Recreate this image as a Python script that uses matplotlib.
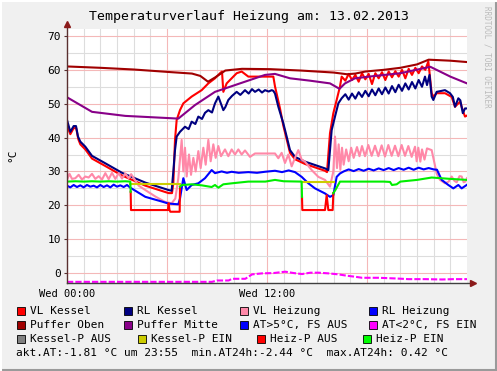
import matplotlib

matplotlib.use("Agg")
import matplotlib.pyplot as plt
from matplotlib.patches import Rectangle
import numpy as np

nan = np.nan

# --- data (hours since Wed 00:00, values in degC) ---
vl_kessel_t = [0, 0.2, 0.4, 0.55, 0.68, 0.8, 1.1, 1.5, 2.3, 3.3, 4.7, 6.1, 6.3,
               6.38, 6.48, 6.58, 6.78, 6.98, 7.48, 8.08, 8.48, 8.88, 9.18, 9.3, 9.38,
               9.58, 9.88, 10.18, 10.48, 10.88, 11.48, 12.08, 12.38, 12.48, 12.78,
               12.98, 13.18, 13.38, 13.68, 14.28, 14.88, 15.48, 15.6, 15.78, 15.98,
               16.18, 16.38, 16.48,
               16.7, 16.9, 17.1, 17.3, 17.5, 17.7, 17.9, 18.1, 18.3, 18.5, 18.7, 18.9,
               19.1, 19.3, 19.5, 19.7, 19.9, 20.1, 20.3, 20.5, 20.7, 20.9, 21.1, 21.3,
               21.5, 21.68, 21.88, 21.98, 22.18, 22.68, 23.08, 23.28, 23.58, 23.75,
               23.88, 24.0]
vl_kessel = [43.5, 41.0, 42.8, 42.8, 39.5, 38.0, 36.5, 33.8, 31.6, 28.8, 25.8, 23.6, 23.6,
             26.5, 39.3, 45.2, 48.1, 50.1, 52.1, 54.0, 56.0, 57.5, 59.0, 59.5, 53.5,
             56.0, 57.5, 59.0, 59.5, 58.0, 58.0, 58.0, 58.0, 55.1, 48.6,
             43.5, 39.5, 35.5, 33.6, 32.2, 31.2, 30.2, 29.8, 41.3, 47.2,
             51.1, 55.1, 58.0,
             56.8, 58.8, 57.0, 58.5, 56.5, 59.0, 57.2, 58.8, 55.8, 59.0, 57.5, 59.3,
             57.0, 59.5, 57.8, 59.6, 58.0, 60.0, 57.5, 60.3, 58.5, 60.6, 59.0, 61.0,
             60.0, 62.5, 53.1, 52.1, 53.1, 53.1, 52.0, 49.1, 50.6, 48.0,
             46.2, 46.5]

rl_kessel_t = [0, 0.2, 0.4, 0.54, 0.66, 0.8, 1.1, 1.5, 2.3, 3.3, 4.7, 6.1, 6.28, 6.38,
               6.48, 6.58, 6.78, 7.08, 7.3, 7.48, 7.7, 7.88, 8.1, 8.28, 8.48, 8.7, 8.88,
               9.08, 9.2, 9.38, 9.5, 9.68, 9.9, 10.18, 10.4, 10.68, 10.9, 11.1, 11.28,
               11.5, 11.7, 11.88, 12.1, 12.28, 12.38, 12.48, 12.68, 12.98, 13.18, 13.38,
               13.68, 14.28, 14.88, 15.48, 15.68, 15.78, 15.88, 16.08, 16.28, 16.48,
               16.7, 16.9, 17.1, 17.3, 17.5, 17.7, 17.9, 18.1, 18.3, 18.5, 18.7, 18.9,
               19.1, 19.3, 19.5, 19.7, 19.9, 20.1, 20.3, 20.5, 20.7, 20.9, 21.1, 21.3,
               21.48, 21.6, 21.75, 21.88, 21.98, 22.18, 22.68, 22.98, 23.15, 23.28,
               23.48, 23.6, 23.75, 23.88, 24.0]
rl_kessel = [45.2, 41.7, 43.4, 43.4, 40.3, 38.8, 37.3, 34.6, 32.4, 29.6, 26.7, 24.5, 24.3, 30.0,
             36.3, 40.3, 41.7, 43.2, 42.5, 44.7, 44.0, 46.2, 45.5, 47.3, 48.1, 47.4, 50.1,
             52.1, 50.5, 48.1, 49.0, 51.1, 52.3, 53.5, 52.6, 54.0, 53.0, 54.3, 53.5,
             54.2, 53.3, 54.0, 53.6, 54.0, 53.8, 53.0, 49.1, 44.2, 40.3, 36.3,
             34.3, 32.9, 31.9, 30.9, 30.4, 36.3, 42.2, 46.2, 50.1, 51.6,
             52.8, 51.2, 53.0, 51.5, 53.4, 52.0, 53.8, 52.2, 54.2, 52.5, 54.5, 52.8,
             54.8, 53.0, 55.2, 53.4, 55.6, 53.8, 56.0, 54.2, 56.4, 54.5, 57.0, 55.0,
             58.0, 55.5, 58.5, 52.1, 51.1, 53.5, 54.0, 53.1, 52.0, 49.1,
             51.6, 51.0, 47.2, 48.6, 48.6]

vl_heizung_t = [0, 0.15, 0.3, 0.5, 0.7, 0.9, 1.1, 1.3, 1.5, 1.7, 1.9, 2.1, 2.3, 2.5, 2.7,
                2.9, 3.1, 3.3, 3.5, 3.7, 3.85, 4.3, 4.7, 5.3, 5.88, 6.28, 6.5, 6.68, 6.88,
                6.98, 7.08, 7.18, 7.32, 7.44, 7.58, 7.72, 7.88, 8.02, 8.18, 8.32, 8.48,
                8.62, 8.78, 8.92, 9.08, 9.24, 9.48, 9.68, 9.88, 10.08, 10.28, 10.48,
                10.68, 10.98, 11.28, 11.88, 12.48, 12.68, 12.88, 13.08, 13.28, 13.48,
                13.68, 13.88, 14.08, 14.28, 14.68, 15.08, 15.48, 15.78, 15.98, 16.08,
                16.2, 16.3, 16.4, 16.5, 16.6, 16.75, 16.9, 17.05, 17.2, 17.4, 17.55,
                17.7, 17.88, 18.08, 18.28, 18.48, 18.68, 18.88, 19.08, 19.28, 19.48,
                19.68, 19.88, 20.08, 20.28, 20.48, 20.68, 20.88, 20.98, 21.08, 21.2,
                21.3, 21.45, 21.6, 21.88, 22.18, 22.38, 22.68, 22.9, 23.08, 23.25,
                23.38, 23.55, 23.68, 23.8, 23.9, 24.0]
vl_heizung = [27.5, 29.3, 27.8, 28.0, 29.0, 27.6, 28.5, 28.2, 29.3, 27.8, 28.6, 27.6, 29.5, 27.7, 29.6,
              27.8, 29.5, 27.9, 29.4, 28.0, 29.2, 25.8, 24.5, 22.6, 21.0, 20.6, 22.0, 28.0, 39.3,
              30.0, 37.0, 28.5, 35.0, 29.0, 34.0, 30.0, 36.0, 31.0, 37.0, 32.0, 39.3,
              33.0, 38.0, 34.0, 37.5, 34.5, 36.5, 34.5, 36.5, 35.0, 36.5, 35.0,
              36.2, 34.3, 35.3, 35.3, 35.3, 33.9, 35.5, 32.5, 35.0, 31.5,
              34.0, 36.3, 33.5, 32.9, 30.4, 28.4, 27.5, 25.5, 30.0, 40.3,
              31.0, 38.0, 30.5, 37.0, 32.0, 36.5, 33.0, 37.0, 34.0, 37.2, 34.5,
              37.5, 34.5, 37.8, 34.6, 37.6, 34.5, 37.7, 34.4, 37.8, 34.6,
              37.6, 34.5, 37.8, 34.6, 37.5, 34.3, 37.3, 33.0, 37.0, 32.9,
              36.5, 33.5, 36.8, 36.3, 29.4, 27.5, 26.5, 27.0, 28.5, 27.2,
              26.8, 28.6, 28.5, 26.8, 27.0, 28.0]

rl_heizung_t = [0, 0.2, 0.4, 0.6, 0.8, 1.0, 1.2, 1.4, 1.6, 1.8, 2.0, 2.2, 2.4, 2.6, 2.8, 3.0,
                3.2, 3.4, 3.6, 3.8, 4.7, 5.7, 6.1, 6.68, 6.78, 6.98, 7.18, 7.48, 7.88, 8.28,
                8.68, 8.88, 9.28, 9.6, 9.88, 10.3, 10.88, 11.4, 11.88, 12.48, 12.9, 13.3,
                13.68, 14.08, 14.48, 14.88, 15.48, 15.78, 15.98, 16.18, 16.38,
                16.6, 16.9, 17.2, 17.5, 17.8, 18.1, 18.4, 18.7, 19.0, 19.3, 19.6, 19.9,
                20.2, 20.5, 20.8, 21.1, 21.4, 21.7, 22.0, 22.2, 22.48, 22.88, 23.18,
                23.48, 23.68, 23.98]
rl_heizung = [25.8, 25.3, 26.0, 25.4, 25.9, 25.3, 26.0, 25.5, 25.8, 25.3, 26.0, 25.4, 25.9, 25.3, 26.1, 25.5,
              25.9, 25.4, 26.0, 25.2, 22.5, 21.1, 20.5, 20.3, 22.0, 28.0, 24.5, 26.0, 26.5, 28.0,
              30.4, 29.5, 30.0, 29.6, 29.9, 29.6, 29.8, 29.6, 29.9, 30.2, 29.8, 30.3,
              29.8, 28.4, 26.5, 25.0, 23.5, 22.5, 23.0, 28.4, 29.4,
              30.0, 30.6, 30.1, 30.7, 30.2, 30.8, 30.3, 30.9, 30.4, 31.0, 30.4, 31.0,
              30.5, 31.1, 30.5, 31.1, 30.6, 31.0, 30.6, 30.5, 27.5, 26.0, 25.0,
              26.0, 25.0, 26.0]

puffer_oben_t = [0, 2, 4, 6, 7.5, 8.0, 8.46, 8.9, 9.5, 10.5, 12.2, 14.0, 16.0, 16.8, 17.3,
                 17.9, 19.0, 20.0, 21.0, 21.7, 23.0, 24.0]
puffer_oben = [61.0, 60.6, 60.1, 59.4, 58.9, 58.2, 56.5, 57.8, 59.8, 60.3, 60.2, 59.8, 59.2, 58.7, 58.9,
               59.5, 60.0, 60.6, 61.6, 63.0, 62.7, 62.3]

puffer_mitte_t = [0, 1.5, 3.5, 6.3, 6.68, 7.68, 8.88, 10.38, 11.88, 12.48, 13.38, 14.58, 15.78,
                  16.35, 16.68, 17.28, 18.48, 20.0, 21.8, 23.0, 24.0]
puffer_mitte = [51.9, 47.6, 46.4, 45.7, 45.6, 49.6, 53.5, 56.0, 58.5, 58.8, 57.5, 56.8, 56.0,
                54.4, 56.0, 57.5, 58.2, 59.0, 60.9, 58.0, 56.0]

at_fs_ein_t = [0, 8.7, 9.0, 9.7, 9.9, 10.7, 11.1, 11.7, 12.4, 13.1, 13.6, 14.1, 14.6, 15.1,
               15.7, 16.3, 16.8, 17.3, 17.7, 18.7, 19.7, 20.5, 21.5, 22.5, 23.2, 24.0]
at_fs_ein = [-2.6, -2.6, -2.2, -2.2, -1.7, -1.7, -0.4, -0.1, 0.0, 0.4, 0.0, -0.3, 0.1, 0.1,
             -0.1, -0.4, -0.8, -1.1, -1.4, -1.4, -1.6, -1.8, -1.8, -1.9, -1.8, -1.8]

kessel_p_ein_t = [3.8, 6.8, nan, 14.1, 16.0]
kessel_p_ein = [26.3, 26.3, nan, 26.8, 26.8]

heiz_p_aus_t = [3.82, 3.84, 6.05, 6.1, 6.15, 6.2, 6.76, 6.78, nan,
                14.1, 14.12, 15.48, 15.58, 15.68, 15.78, 15.94, 15.98]
heiz_p_aus = [24.0, 18.6, 18.6, 20.6, 18.6, 18.1, 18.1, 25.5, nan,
              22.5, 18.6, 18.6, 23.0, 18.6, 18.6, 18.6, 23.6]

heiz_p_ein_t = [0, 0.5, 1, 1.5, 2, 2.5, 3, 3.5, 3.8, 3.82, nan,
                6.78, 6.9, 7.48, 8.08, 8.68, 8.88, 9.08, 9.38, 9.9, 10.88, 11.9, 12.48, 13.0,
                14.08, 14.1, nan,
                15.98, 16.1, 16.38, 17.0, 18.0, 19.0, 19.38, 19.5, 19.78, 20.0, 21.0, 21.88,
                23.0, 24.0]
heiz_p_ein = [27.0, 27.1, 27.0, 27.1, 27.0, 27.1, 27.0, 27.1, 27.0, 24.0, nan,
              25.5, 26.0, 26.2, 25.9, 25.4, 26.0, 25.2, 26.2, 26.5, 27.0, 27.0, 27.5, 27.1,
              27.0, 22.5, nan,
              23.6, 24.5, 27.0, 27.0, 27.0, 27.0, 26.9, 26.0, 26.2, 27.0, 27.5, 28.2,
              27.8, 27.5]

legend_rows = [
    [("VL Kessel", "#FF0000"), ("RL Kessel", "#000080"),
     ("VL Heizung", "#FF88A8"), ("RL Heizung", "#0000FF")],
    [("Puffer Oben", "#A00000"), ("Puffer Mitte", "#880088"),
     ("AT>5°C, FS AUS", "#0000FF"), ("AT<2°C, FS EIN", "#FF00FF")],
    [("Kessel-P AUS", "#808080"), ("Kessel-P EIN", "#CCCC00"),
     ("Heiz-P AUS", "#FF0000"), ("Heiz-P EIN", "#00FF00")],
]
info_text = "akt.AT:-1.81 °C um 23:55  min.AT24h:-2.44 °C  max.AT24h: 0.42 °C"

# --- figure ---
W, H = 497, 371
plt.rcParams["font.family"] = ["DejaVu Sans Mono", "DejaVu Sans"]
fig = plt.figure(figsize=(W / 100, H / 100), dpi=100, facecolor="#F0F0F0")


def fx(x):
    return x / W


def fy(y):
    return 1 - y / H


ax = fig.add_axes([fx(67), fy(283.2), fx(400), (283.2 - 29.2) / H])
ax.set_facecolor("white")
ax.set_xlim(0, 24)
ax.set_ylim(-3, 72)

# grid
for h in range(1, 24):
    major = h % 6 == 0
    ax.axvline(h, color="#F4B8B8" if major else "#DDDDDD", lw=0.8, zorder=0)
for v in range(0, 71, 5):
    major = v % 10 == 0
    ax.axhline(v, color="#F4B8B8" if major else "#DDDDDD", lw=0.8, zorder=0)

lw = 1.5
ax.plot(vl_kessel_t, vl_kessel, color="#FF0000", lw=lw)
ax.plot(rl_kessel_t, rl_kessel, color="#000080", lw=lw)
ax.plot(vl_heizung_t, vl_heizung, color="#FF88A8", lw=lw)
ax.plot(rl_heizung_t, rl_heizung, color="#0000FF", lw=lw)
ax.plot(puffer_oben_t, puffer_oben, color="#A00000", lw=lw)
ax.plot(puffer_mitte_t, puffer_mitte, color="#880088", lw=lw)
ax.plot(at_fs_ein_t, at_fs_ein, color="#FF00FF", lw=lw, linestyle=(0, (3, 1)))
ax.plot(kessel_p_ein_t, kessel_p_ein, color="#CCCC00", lw=lw)
ax.plot(heiz_p_aus_t, heiz_p_aus, color="#FF0000", lw=lw)
ax.plot(heiz_p_ein_t, heiz_p_ein, color="#00EE00", lw=lw)

for s in ax.spines.values():
    s.set_visible(False)
axis_col = "#5A3030"
ax.plot([0, 0], [-3, 73.3], color=axis_col, lw=1, clip_on=False, zorder=5)
ax.plot([0, 24.3], [-3, -3], color="#404040", lw=1, clip_on=False, zorder=5)
ax.plot(0, 73.6, marker="^", ms=4, color="#8B1A1A", clip_on=False, zorder=6)
ax.plot(24.35, -3, marker=">", ms=4, color="#8B1A1A", clip_on=False, zorder=6)

ax.set_yticks(range(0, 71, 10))
ax.set_yticklabels([str(v) for v in range(0, 71, 10)], fontsize=8)
ax.tick_params(axis="y", length=2.5, width=0.8, color=axis_col, pad=2)
ax.set_xticks([0, 12])
ax.set_xticklabels(["Wed 00:00", "Wed 12:00"], fontsize=7.5)
ax.tick_params(axis="x", length=0, pad=4)

fig.text(fx(249), fy(16.5), "Temperaturverlauf Heizung am: 13.02.2013",
         ha="center", va="center", fontsize=9.5)
fig.text(fx(12), fy(155), "°C", rotation=90, ha="center", va="center", fontsize=8)
fig.text(fx(487), fy(6), "RRDTOOL / TOBI OETIKER", rotation=270, ha="center",
         va="top", fontsize=5.5, color="#BBBBBB")

# legend
col_x = [[16.7, 124, 240, 369], [16.7, 124, 240, 369], [16.7, 137.7, 256.7, 362.7]]
row_y = [311, 325, 339]
for r, row in enumerate(legend_rows):
    for c, (label, color) in enumerate(row):
        x, y = col_x[r][c], row_y[r]
        fig.add_artist(Rectangle((fx(x), fy(y + 4)), 8 / W, 8 / H, transform=fig.transFigure,
                                 facecolor=color, edgecolor="black", lw=0.6))
        fig.text(fx(x + 13.3), fy(y), label, ha="left", va="center", fontsize=8)
fig.text(fx(16), fy(353), info_text, ha="left", va="center", fontsize=8)

# frame
fig.add_artist(plt.Line2D([0, 1], [fy(370), fy(370)], transform=fig.transFigure,
                          color="#9A9A9A", lw=1.5))
fig.add_artist(plt.Line2D([fx(496), fx(496)], [0, 1], transform=fig.transFigure,
                          color="#9A9A9A", lw=1.5))
fig.add_artist(plt.Line2D([0, 1], [fy(0.5), fy(0.5)], transform=fig.transFigure,
                          color="white", lw=1.5))
fig.add_artist(plt.Line2D([fx(0.5), fx(0.5)], [0, 1], transform=fig.transFigure,
                          color="white", lw=1.5))

fig.savefig("out.png", dpi=100, facecolor=fig.get_facecolor())
plt.close(fig)
